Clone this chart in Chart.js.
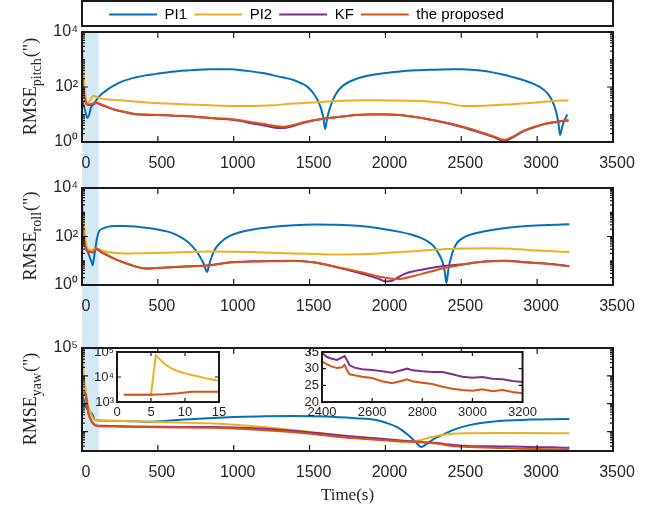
<!DOCTYPE html>
<html><head><meta charset="utf-8">
<script src="https://cdn.jsdelivr.net/npm/chart.js@4.4.1/dist/chart.umd.min.js"></script>
<style>
html,body{margin:0;padding:0;background:#fff;}
#wrap{position:relative;width:663px;height:510px;overflow:hidden;background:#fff;}
#wrap canvas{position:absolute;}
</style></head><body>
<div id="wrap">
<canvas id="cPitch" width="663" height="170" style="left:0;top:0"></canvas>
<canvas id="cRoll" width="663" height="155" style="left:0;top:170px"></canvas>
<canvas id="cYaw" width="663" height="185" style="left:0;top:325px"></canvas>
<canvas id="cIn1" width="150" height="85" style="left:80px;top:340px"></canvas>
<canvas id="cIn2" width="250" height="85" style="left:290px;top:340px"></canvas>
</div>
<script>
// ---------- labels, colours, ticks ----------
const seriesNames = ['PI1', 'PI2', 'KF', 'the proposed'];
const seriesColors = ['#0072BD', '#EDB120', '#7E2F8E', '#D95319'];
const drawOrder = [4, 3, 2, 1];
const bandRange = [0, 110];
const xTicksMain = [0, 500, 1000, 1500, 2000, 2500, 3000, 3500];
const pitchYTicks = [1, 100, 10000];
const rollYTicks = [1, 100, 10000];
const yawYLabelTicks = [100000];
const yawYMarks = [100, 1000, 10000, 100000];
const inset1XTicks = [0, 5, 10, 15];
const inset1YTicks = [1000, 10000, 100000];
const inset2XTicks = [2400, 2600, 2800, 3000, 3200];
const inset2YTicks = [20, 25, 30, 35];
const xTitle = 'Time(s)';

// ---------- pitch ----------
const pitchPI1T = [0,15,30,36,45,60,80,112,167,230,279,350,418,490,558,630,697,770,837,900,976,1050,1115,1190,1255,1330,1394,1440,1478,1510,1534,1560,1576,1590,1603,1615,1631,1650,1673,1710,1757,1810,1868,1940,2008,2080,2147,2220,2287,2370,2454,2510,2565,2640,2705,2780,2844,2920,2984,3030,3067,3095,3123,3140,3151,3165,3179,3199];
const pitchPI1V = [35,18,9,7.5,9,18,25,45,80,130,170,220,265,300,340,375,400,425,440,445,440,410,370,320,270,220,180,140,110,75,50,28,16,8,3,7,15,30,55,100,150,200,245,290,325,360,390,410,425,435,440,438,425,390,340,280,225,170,125,90,60,35,14,5,1.8,3.5,6,10];
const pitchPI2T = [0,5,10,15,20,30,45,60,75,90,110,140,180,250,350,450,558,700,850,1000,1115,1250,1394,1550,1676,1850,1955,2100,2235,2400,2514,2650,2793,2950,3073,3207];
const pitchPI2V = [4000,1500,400,120,60,27,28,38,48,45,40,37,35,33,30,27,25,23,21.5,20.5,20.5,21.5,25,28,31,33,33,32,31,26,20.5,21,23,26,30,33];
const pitchEstT = [0,5,10,20,28,42,60,80,98,120,167,220,279,350,418,500,559,630,697,770,837,900,976,1050,1115,1190,1255,1300,1339,1394,1460,1534,1600,1673,1750,1813,1880,1952,2020,2091,2160,2231,2300,2370,2440,2510,2580,2649,2700,2740,2761,2789,2815,2844,2880,2928,3000,3067,3140,3207];
const pitchKFV = [280,140,65,33,24,22,23,25,26,23,18.5,14.5,12.3,10.3,9.8,9.5,9.3,8.9,8.6,8.0,7.4,7.0,6.6,5.8,4.8,4.1,3.45,3.2,3.25,3.8,5.0,6.2,7.2,8.0,8.9,9.7,10.1,10.3,10.1,9.6,8.7,7.6,6.4,5.3,4.3,3.4,2.6,2.0,1.6,1.3,1.15,1.1,1.25,1.5,2.0,2.7,3.7,4.7,5.5,6.1];
const pitchPropV = [300,150,70,35,25,23,24,26,27,24,19,15,12.6,10.5,10,9.6,9.4,9,8.8,8.2,7.6,7.2,6.9,6.1,5.2,4.6,3.95,3.7,3.6,4.2,5.2,6.3,7.1,7.9,8.8,9.5,9.9,10,9.9,9.5,8.6,7.6,6.5,5.5,4.5,3.6,2.8,2.1,1.7,1.4,1.25,1.2,1.35,1.6,2.1,2.8,3.8,4.8,5.6,6.3];

// ---------- roll ----------
const rollPI1T = [0,20,40,55,63,70,78,89,100,112,140,168,220,279,350,419,490,559,600,642,690,726,760,782,800,812,824,836,852,870,894,930,978,1040,1117,1250,1397,1536,1676,1816,1955,2095,2170,2235,2280,2318,2350,2374,2390,2402,2414,2430,2450,2472,2514,2580,2654,2793,2933,3073,3212];
const rollPI1V = [60,40,22,12,9,6.5,12,35,90,160,215,250,268,270,258,232,200,163,135,100,65,40,22,13,8,5,3.4,6,13,25,42,70,108,150,190,245,290,312,305,275,220,155,120,88,62,40,20,9.8,4,1.2,4,12,30,55,90,130,165,225,270,300,320];
const rollPI2T = [0,5,10,20,30,42,60,80,98,120,168,279,400,559,700,838,1000,1117,1250,1397,1536,1676,1816,1955,2100,2235,2374,2514,2654,2793,2933,3073,3212];
const rollPI2V = [4200,1800,500,100,40,30,28,30,32,28,23,20,20.5,21.5,23,24,23.5,23,21.5,20,19,18,18.5,20,23,26,30,32,33,32,28,25,23];
const rollEstT = [0,5,10,20,34,50,70,98,120,168,210,251,300,363,419,490,559,700,838,978,1117,1250,1397,1536,1676,1750,1816,1890,1955,2000,2039,2080,2123,2180,2235,2300,2374,2440,2514,2580,2654,2793,2933,3073,3212];
const rollKFV = [480,240,95,43,25,23,22,30,24,16.5,12.2,9.6,7.4,5.5,4.8,5,5.3,5.9,6.6,8.7,9.5,9.8,9.9,8.4,5.4,4.2,3.3,2.4,1.8,1.4,1.45,2.0,2.8,3.6,4.2,5.0,5.9,6.6,7.2,8.3,9.4,9.9,8.6,7.5,6.0];
const rollPropV = [500,250,100,45,26,24,23,32,25,17,12.5,9.8,7.5,5.6,4.8,5,5.3,5.8,6.4,8.5,9.3,9.6,9.8,8.5,5.6,4.5,3.65,2.8,2.26,2,1.8,1.75,1.9,2.3,2.8,3.6,4.8,5.8,7,8.2,9.3,9.8,8.5,7.4,5.9];

// ---------- yaw ----------
const yawPI1T = [0,5,10,20,40,70,84,150,279,450,520,600,800,1000,1200,1400,1600,1800,1937,2000,2080,2150,2200,2236,2270,2320,2374,2440,2514,2600,2700,2800,2950,3100,3212];
const yawPI1V = [1800,1800,1500,900,600,400,260,245,240,225,232,255,295,330,355,360,345,300,260,210,140,75,42,28,35,55,75,110,150,190,225,250,268,277,280];
const yawPI2T = [0,4,5,5.8,6.5,8,10,12,15,20,30,50,84,150,279,500,838,1100,1397,1676,1955,2123,2200,2235,2300,2374,2514,2700,2900,3212];
const yawPI2V = [1900,1900,1950,70000,40000,21000,14000,11000,7000,4000,1800,600,260,245,240,220,197,160,114,75,54,43,45,50,62,75,86,88,88,86];
const yawEstT = [0,5,10,15,25,40,60,84,120,200,279,500,838,1000,1200,1397,1550,1676,1800,1955,2100,2235,2374,2400,2514,2600,2700,2800,2900,3000,3100,3212];
const yawKFV = [1900,1950,2400,2600,2000,510,250,175,160,158,155,148,145,140,125,105,88,75,65,56,48,42,37,35,31,29.5,29.5,29,28.5,27.5,27,26];
const yawPropV = [1900,1950,2400,2600,2000,510,250,171,155,152,150,142,137,128,112,94,78,65,57,50,45,41,35,32,28.5,27,26,25.5,24,23.5,23,22.5];

// ---------- insets ----------
const in1PI2T = [1,5,5.7,6.5,7,8,9,10,11,12,13,14,15];
const in1PI2V = [1950,1950,75000,45000,33000,22000,17000,14000,12000,10500,9000,8000,7000];
const in1PropT = [1,3,5,6,7,8,9,10,11,12,13,14,15];
const in1PropV = [1950,1950,1950,2000,2050,2150,2250,2400,2550,2600,2600,2600,2550];
const in2T = [2400,2420,2440,2460,2480,2490,2500,2510,2530,2560,2600,2640,2680,2720,2740,2760,2800,2840,2880,2920,2960,3000,3040,3080,3120,3160,3200];
const in2KFV = [34.7,33.5,33,32.6,33.4,33.8,32.5,31,30.3,29.8,29.6,29.2,28.8,29.6,30,29.5,29.2,29,29,28.3,27.6,27.3,27.5,27,26.8,26.3,26];
const in2PropV = [32.2,31.3,30.6,30.2,30.4,31.2,29.5,28.3,28,27.6,27.2,26.2,25.6,26.4,26.8,26.2,25.8,25.4,24.6,24,23.6,23.4,23.8,23.2,23.6,23,22.6];

// ---------- styling ----------
const axisColor = '#1a1a1a';
const textColor = '#262626';
const bandColor = '#d4e9f4';
const sansFont = '"Liberation Sans", Arial, sans-serif';
const serifFont = '"Liberation Serif", "Times New Roman", serif';
Chart.defaults.font.family = sansFont;
Chart.defaults.color = textColor;

const supMap = {'0':'\u2070','1':'\u00b9','2':'\u00b2','3':'\u00b3','4':'\u2074','5':'\u2075','6':'\u2076','7':'\u2077','8':'\u2078','9':'\u2079','-':'\u207b'};
const powLabel = v => '10' + String(Math.round(Math.log10(v))).split('').map(c => supMap[c]).join('');
const pts = (t, v) => t.map((x, i) => ({x: x, y: v[i]}));

function drawYTitle(ctx, a, sub, x) {
  const mainF = '18px ' + serifFont, subF = '14px ' + serifFont;
  const tail = '(")';
  ctx.font = mainF;
  const w1 = ctx.measureText('RMSE').width, w3 = ctx.measureText(tail).width;
  ctx.font = subF;
  const w2 = ctx.measureText(sub).width;
  const L = w1 + w2 + w3;
  const cy = (a.top + a.bottom) / 2;
  ctx.save();
  ctx.translate(x, cy + L / 2);
  ctx.rotate(-Math.PI / 2);
  ctx.fillStyle = textColor;
  ctx.textAlign = 'left';
  ctx.textBaseline = 'alphabetic';
  ctx.font = mainF; ctx.fillText('RMSE', 0, 0);
  ctx.font = subF; ctx.fillText(sub, w1, 5);
  ctx.font = mainF; ctx.fillText(tail, w1 + w2 + 1, 0);
  ctx.restore();
}

const decoPlugin = {
  id: 'deco',
  beforeDraw(chart, args, o) {
    const ctx = chart.ctx, a = chart.chartArea, xs = chart.scales.x;
    ctx.save();
    if (o.white) { ctx.fillStyle = '#fff'; ctx.fillRect(a.left, a.top, a.right - a.left, a.bottom - a.top); }
    if (o.band) {
      const x0 = xs.getPixelForValue(bandRange[0]), x1 = xs.getPixelForValue(bandRange[1]);
      const top = o.band === 'top' ? a.top : 0;
      const bottom = o.band === 'bottom' ? a.bottom : chart.height;
      ctx.fillStyle = bandColor;
      ctx.fillRect(x0, top, x1 - x0, bottom - top);
    }
    ctx.restore();
  },
  afterDraw(chart, args, o) {
    const ctx = chart.ctx, a = chart.chartArea, xs = chart.scales.x, ys = chart.scales.y;
    const tl = o.tickLen || 5;
    ctx.save();
    ctx.strokeStyle = axisColor;
    ctx.lineWidth = 1.2;
    ctx.beginPath();
    (o.xMarks || []).forEach(v => {
      const px = xs.getPixelForValue(v);
      ctx.moveTo(px, a.bottom); ctx.lineTo(px, a.bottom - tl);
      ctx.moveTo(px, a.top); ctx.lineTo(px, a.top + tl);
    });
    (o.yMarks || []).forEach(v => {
      const py = ys.getPixelForValue(v);
      ctx.moveTo(a.left, py); ctx.lineTo(a.left + tl, py);
      ctx.moveTo(a.right, py); ctx.lineTo(a.right - tl, py);
    });
    if (o.minor) {
      const k0 = Math.floor(Math.log10(ys.min)), k1 = Math.ceil(Math.log10(ys.max));
      for (let k = k0; k <= k1; k++) {
        for (let m = 1; m <= 9; m++) {
          const v = m * Math.pow(10, k);
          if (v <= ys.min || v >= ys.max) continue;
          const py = ys.getPixelForValue(v);
          ctx.moveTo(a.left, py); ctx.lineTo(a.left + tl * 0.5, py);
          ctx.moveTo(a.right, py); ctx.lineTo(a.right - tl * 0.5, py);
        }
      }
    }
    ctx.stroke();
    ctx.lineWidth = o.boxWidth || 2;
    ctx.strokeRect(a.left, a.top, a.right - a.left, a.bottom - a.top);
    if (o.legendBox && chart.legend) {
      const lg = chart.legend;
      ctx.strokeRect(a.left, lg.top + 1, a.right - a.left, 25);
    }
    if (o.sub) drawYTitle(ctx, a, o.sub, o.titleX || 36);
    ctx.restore();
  }
};
Chart.register(decoPlugin);

function mainDatasets(list) {
  return list.map((s, i) => ({
    label: seriesNames[i],
    data: pts(s[0], s[1]),
    borderColor: seriesColors[i],
    backgroundColor: seriesColors[i],
    borderWidth: 2,
    pointRadius: 0,
    cubicInterpolationMode: 'monotone',
    order: drawOrder[i]
  }));
}

function panel(id, series, cfg) {
  return new Chart(document.getElementById(id), {
    type: 'line',
    data: { datasets: mainDatasets(series) },
    options: {
      responsive: false, animation: false, devicePixelRatio: 1,
      layout: { padding: { left: 0, right: 50, top: cfg.padTop, bottom: 0 } },
      scales: {
        x: {
          type: 'linear', min: 0, max: 3500,
          grid: { display: false, drawTicks: false }, border: { display: false },
          afterBuildTicks: s => { s.ticks = xTicksMain.map(v => ({value: v})); },
          afterFit: s => { s.height = cfg.xHeight; },
          ticks: { autoSkip: false, maxRotation: 0, padding: 12, labelOffset: 4, font: { size: 16 }, color: textColor, callback: v => String(v) },
          title: cfg.title ? { display: true, text: xTitle, font: { family: serifFont, size: 17 }, color: textColor, padding: { top: 0, bottom: 4 } } : { display: false }
        },
        y: {
          type: 'logarithmic', min: cfg.yMin, max: cfg.yMax,
          grid: { display: false, drawTicks: false }, border: { display: false },
          afterBuildTicks: s => { s.ticks = cfg.yLabels.map(v => ({value: v})); },
          afterFit: s => { s.width = 82; },
          ticks: { autoSkip: false, padding: 4, font: { size: 16 }, color: textColor, callback: v => powLabel(v) }
        }
      },
      plugins: {
        legend: cfg.legend ? {
          display: true, position: 'top', align: 'center',
          labels: { usePointStyle: true, pointStyle: 'line', pointStyleWidth: 48, padding: 7, color: '#000', font: { size: 15 },
            sort: (a, b) => a.datasetIndex - b.datasetIndex }
        } : { display: false },
        tooltip: { enabled: false },
        deco: { band: cfg.band, sub: cfg.sub, xMarks: xTicksMain, yMarks: cfg.yMarks, minor: true, tickLen: 6, legendBox: !!cfg.legend, titleX: 36 }
      }
    }
  });
}

panel('cPitch', [[pitchPI1T, pitchPI1V], [pitchPI2T, pitchPI2V], [pitchEstT, pitchKFV], [pitchEstT, pitchPropV]],
  { padTop: 0, xHeight: 28, yMin: 1, yMax: 10000, yLabels: pitchYTicks, yMarks: pitchYTicks, band: 'top', sub: 'pitch', legend: true });
panel('cRoll', [[rollPI1T, rollPI1V], [rollPI2T, rollPI2V], [rollEstT, rollKFV], [rollEstT, rollPropV]],
  { padTop: 18, xHeight: 40, yMin: 1, yMax: 10000, yLabels: rollYTicks, yMarks: rollYTicks, band: 'mid', sub: 'roll' });
panel('cYaw', [[yawPI1T, yawPI1V], [yawPI2T, yawPI2V], [yawEstT, yawKFV], [yawEstT, yawPropV]],
  { padTop: 23, xHeight: 59, yMin: 20, yMax: 100000, yLabels: yawYLabelTicks, yMarks: yawYMarks, band: 'bottom', sub: 'yaw', title: true });

function inset(id, datasets, cfg) {
  return new Chart(document.getElementById(id), {
    type: 'line',
    data: { datasets: datasets },
    options: {
      responsive: false, animation: false, devicePixelRatio: 1,
      layout: { padding: { left: 0, right: cfg.padRight, top: 12, bottom: 0 } },
      scales: {
        x: {
          type: 'linear', min: cfg.xTicks[0], max: cfg.xTicks[cfg.xTicks.length - 1],
          grid: { display: false, drawTicks: false }, border: { display: false },
          afterBuildTicks: s => { s.ticks = cfg.xTicks.map(v => ({value: v})); },
          afterFit: s => { s.height = 23; },
          ticks: { autoSkip: false, maxRotation: 0, padding: 3, font: { size: 13 }, color: textColor, callback: v => String(v) }
        },
        y: {
          type: cfg.log ? 'logarithmic' : 'linear', min: cfg.yTicks[0], max: cfg.yTicks[cfg.yTicks.length - 1],
          grid: { display: false, drawTicks: false }, border: { display: false },
          afterBuildTicks: s => { s.ticks = cfg.yTicks.map(v => ({value: v})); },
          afterFit: s => { s.width = cfg.yWidth; },
          ticks: { autoSkip: false, padding: 3, font: { size: 13 }, color: textColor, callback: v => cfg.log ? powLabel(v) : String(v) }
        }
      },
      plugins: {
        legend: { display: false }, tooltip: { enabled: false },
        deco: { white: true, xMarks: cfg.xTicks, yMarks: cfg.yTicks, minor: false, tickLen: 4, boxWidth: 2 }
      }
    }
  });
}
function insetDs(idx, t, v) {
  return { label: seriesNames[idx], data: pts(t, v), borderColor: seriesColors[idx], borderWidth: 2, pointRadius: 0, order: drawOrder[idx] };
}
inset('cIn1', [insetDs(1, in1PI2T, in1PI2V), insetDs(3, in1PropT, in1PropV)],
  { xTicks: inset1XTicks, yTicks: inset1YTicks, log: true, yWidth: 37, padRight: 11 });
inset('cIn2', [insetDs(2, in2T, in2KFV), insetDs(3, in2T, in2PropV)],
  { xTicks: inset2XTicks, yTicks: inset2YTicks, log: false, yWidth: 32, padRight: 16 });
</script>
</body></html>
